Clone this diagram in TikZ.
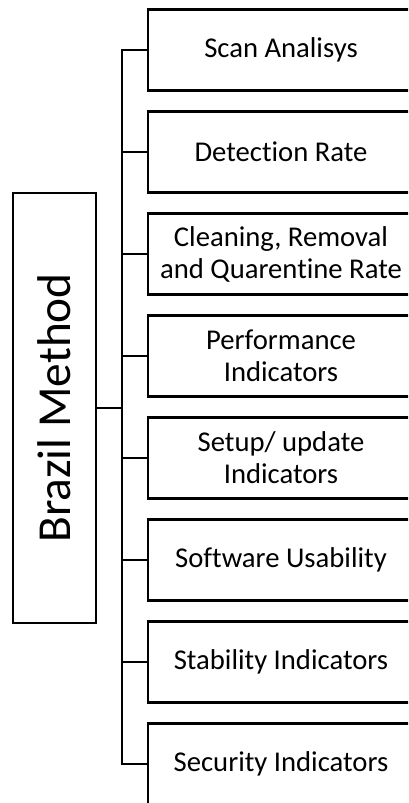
\documentclass[tikz,border=0pt]{standalone}
\usepackage{fontspec}
\setmainfont{Carlito}[Ligatures=NoCommon]

\begin{document}
\begin{tikzpicture}[x=0.75pt,y=0.75pt,yscale=-1,xscale=1,
  itembox/.style={draw, line width=2pt, minimum width=199.5pt, minimum height=60.75pt,
    inner sep=0pt, align=center, font=\fontsize{21.5}{24}\selectfont},
  mainbox/.style={draw, line width=2pt, rotate=90, minimum width=322.5pt, minimum height=62.25pt,
    inner sep=0pt, font=\fontsize{35.5}{40}\selectfont},
  branch/.style={line width=2pt}]
  %set diagram size to 408 x 803
  \useasboundingbox (0,0) rectangle (408,803);
  \clip (0,0) rectangle (408,803);

  % Main Node
  \node [mainbox] (brazil) at (54.5,408) {Brazil Method};
  \coordinate (hub) at (122,408);

  % Text Node
  \node [itembox] (scan) at (281,50) {Scan Analisys};
  % Text Node
  \node [itembox] (detect) at (281,152) {Detection Rate};
  % Text Node
  \node [itembox] (clean) at (281,254) {Cleaning, Removal\\and Quarentine Rate};
  % Text Node
  \node [itembox] (perf) at (281,356) {Performance\\Indicators};
  % Text Node
  \node [itembox] (setup) at (281,458) {Setup/ update\\Indicators};
  % Text Node
  \node [itembox] (usab) at (281,560) {Software Usability};
  % Text Node
  \node [itembox] (stab) at (281,662) {Stability Indicators};
  % Text Node
  \node [itembox] (secur) at (281,764) {Security Indicators};

  % Connectors
  \draw [branch] (brazil.south) -- (hub);
  \draw [branch] (hub) |- (scan.west);
  \draw [branch] (hub) |- (detect.west);
  \draw [branch] (hub) |- (clean.west);
  \draw [branch] (hub) |- (perf.west);
  \draw [branch] (hub) |- (setup.west);
  \draw [branch] (hub) |- (usab.west);
  \draw [branch] (hub) |- (stab.west);
  \draw [branch] (hub) |- (secur.west);

\end{tikzpicture}
\end{document}
